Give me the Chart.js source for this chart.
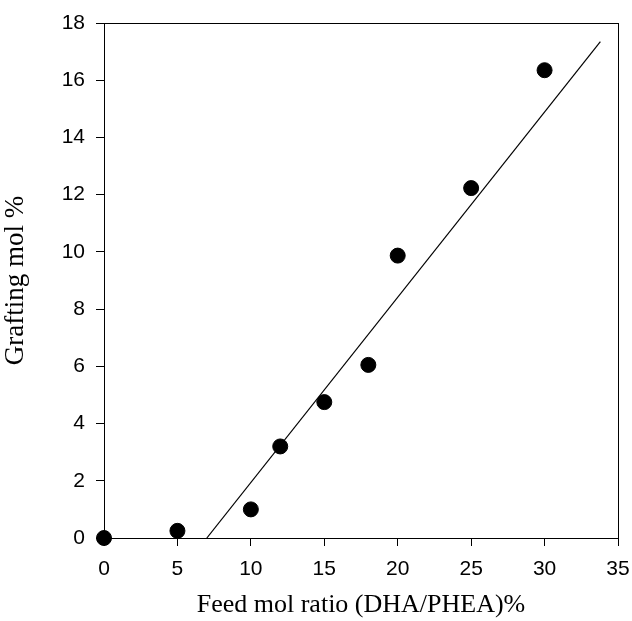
<!DOCTYPE html>
<html>
<head>
<meta charset="utf-8">
<script src="https://cdn.jsdelivr.net/npm/chart.js@4"></script>
<style>
  html, body { margin: 0; padding: 0; background: #fff; }
  #wrap { width: 632px; height: 621px; }
</style>
</head>
<body>
<div id="wrap"><canvas id="graft"></canvas></div>
<script>
// measured grafting vs feed ratio
const feedRatio = [0, 5, 10, 12, 15, 18, 20, 25, 30]
const graftingMol = [0, 0.25, 1.0, 3.2, 4.75, 6.05, 9.87, 12.23, 16.35]

// regression line end points
const fitX = [7, 33.8]
const fitY = [0, 17.35]

const xTicks = [0, 5, 10, 15, 20, 25, 30, 35]
const yTicks = [0, 2, 4, 6, 8, 10, 12, 14, 16, 18]

const points = feedRatio.map((x, i) => ({ x: x, y: graftingMol[i] }))
const fit = fitX.map((x, i) => ({ x: x, y: fitY[i] }))

// box around the plot area
const frame = {
    id: 'frame',
    beforeDatasetsDraw(chart) {
        const { ctx, chartArea } = chart
        ctx.save()
        ctx.strokeStyle = '#000'
        ctx.lineWidth = 1
        ctx.strokeRect(chartArea.left + 0.5, chartArea.top + 0.5,
            chartArea.right - chartArea.left, chartArea.bottom - chartArea.top)
        ctx.restore()
    }
}

const tickFont = { family: 'Liberation Sans, Arial, sans-serif', size: 21 }
const serif = 'Liberation Serif, Times New Roman, serif'

new Chart(document.getElementById('graft'), {
    type: 'scatter',
    data: {
        datasets: [{
            label: 'fit',
            type: 'line',
            data: fit,
            borderColor: '#000',
            borderWidth: 1.2,
            pointRadius: 0,
            fill: false
        }, {
            label: 'data',
            data: points,
            backgroundColor: '#000',
            borderColor: '#000',
            pointRadius: 7.5,
            pointHoverRadius: 7.5,
            clip: false
        }]
    },
    plugins: [frame],
    options: {
        responsive: true,
        maintainAspectRatio: false,
        animation: false,
        layout: { padding: { left: 0, top: 23, right: 14, bottom: 0 } },
        plugins: { legend: { display: false }, tooltip: { enabled: false } },
        scales: {
            x: {
                type: 'linear',
                min: 0,
                max: 35,
                afterBuildTicks: axis => { axis.ticks = xTicks.map(v => ({ value: v })) },
                afterFit: axis => {
                    axis.height = 83
                    axis.paddingLeft = 0
                    axis.paddingRight = 0
                },
                border: { display: false },
                grid: { drawOnChartArea: false, tickLength: 8, color: '#000', lineWidth: 1 },
                ticks: { color: '#000', font: tickFont, padding: 11, maxRotation: 0 },
                title: { display: true, text: 'Feed mol ratio (DHA/PHEA)%', color: '#000', font: { family: serif, size: 26 }, padding: { top: 0, bottom: 0 } }
            },
            y: {
                type: 'linear',
                min: 0,
                max: 18,
                afterBuildTicks: axis => { axis.ticks = yTicks.map(v => ({ value: v })) },
                afterFit: axis => {
                    axis.width = 104
                    axis.paddingTop = 0
                    axis.paddingBottom = 0
                },
                border: { display: false },
                grid: { drawOnChartArea: false, tickLength: 8, color: '#000', lineWidth: 1 },
                ticks: { color: '#000', font: tickFont, padding: 11 },
                title: { display: true, text: 'Grafting mol %', color: '#000', font: { family: serif, size: 27 }, padding: { top: 0, bottom: 0 } }
            }
        }
    }
})
</script>
</body>
</html>
